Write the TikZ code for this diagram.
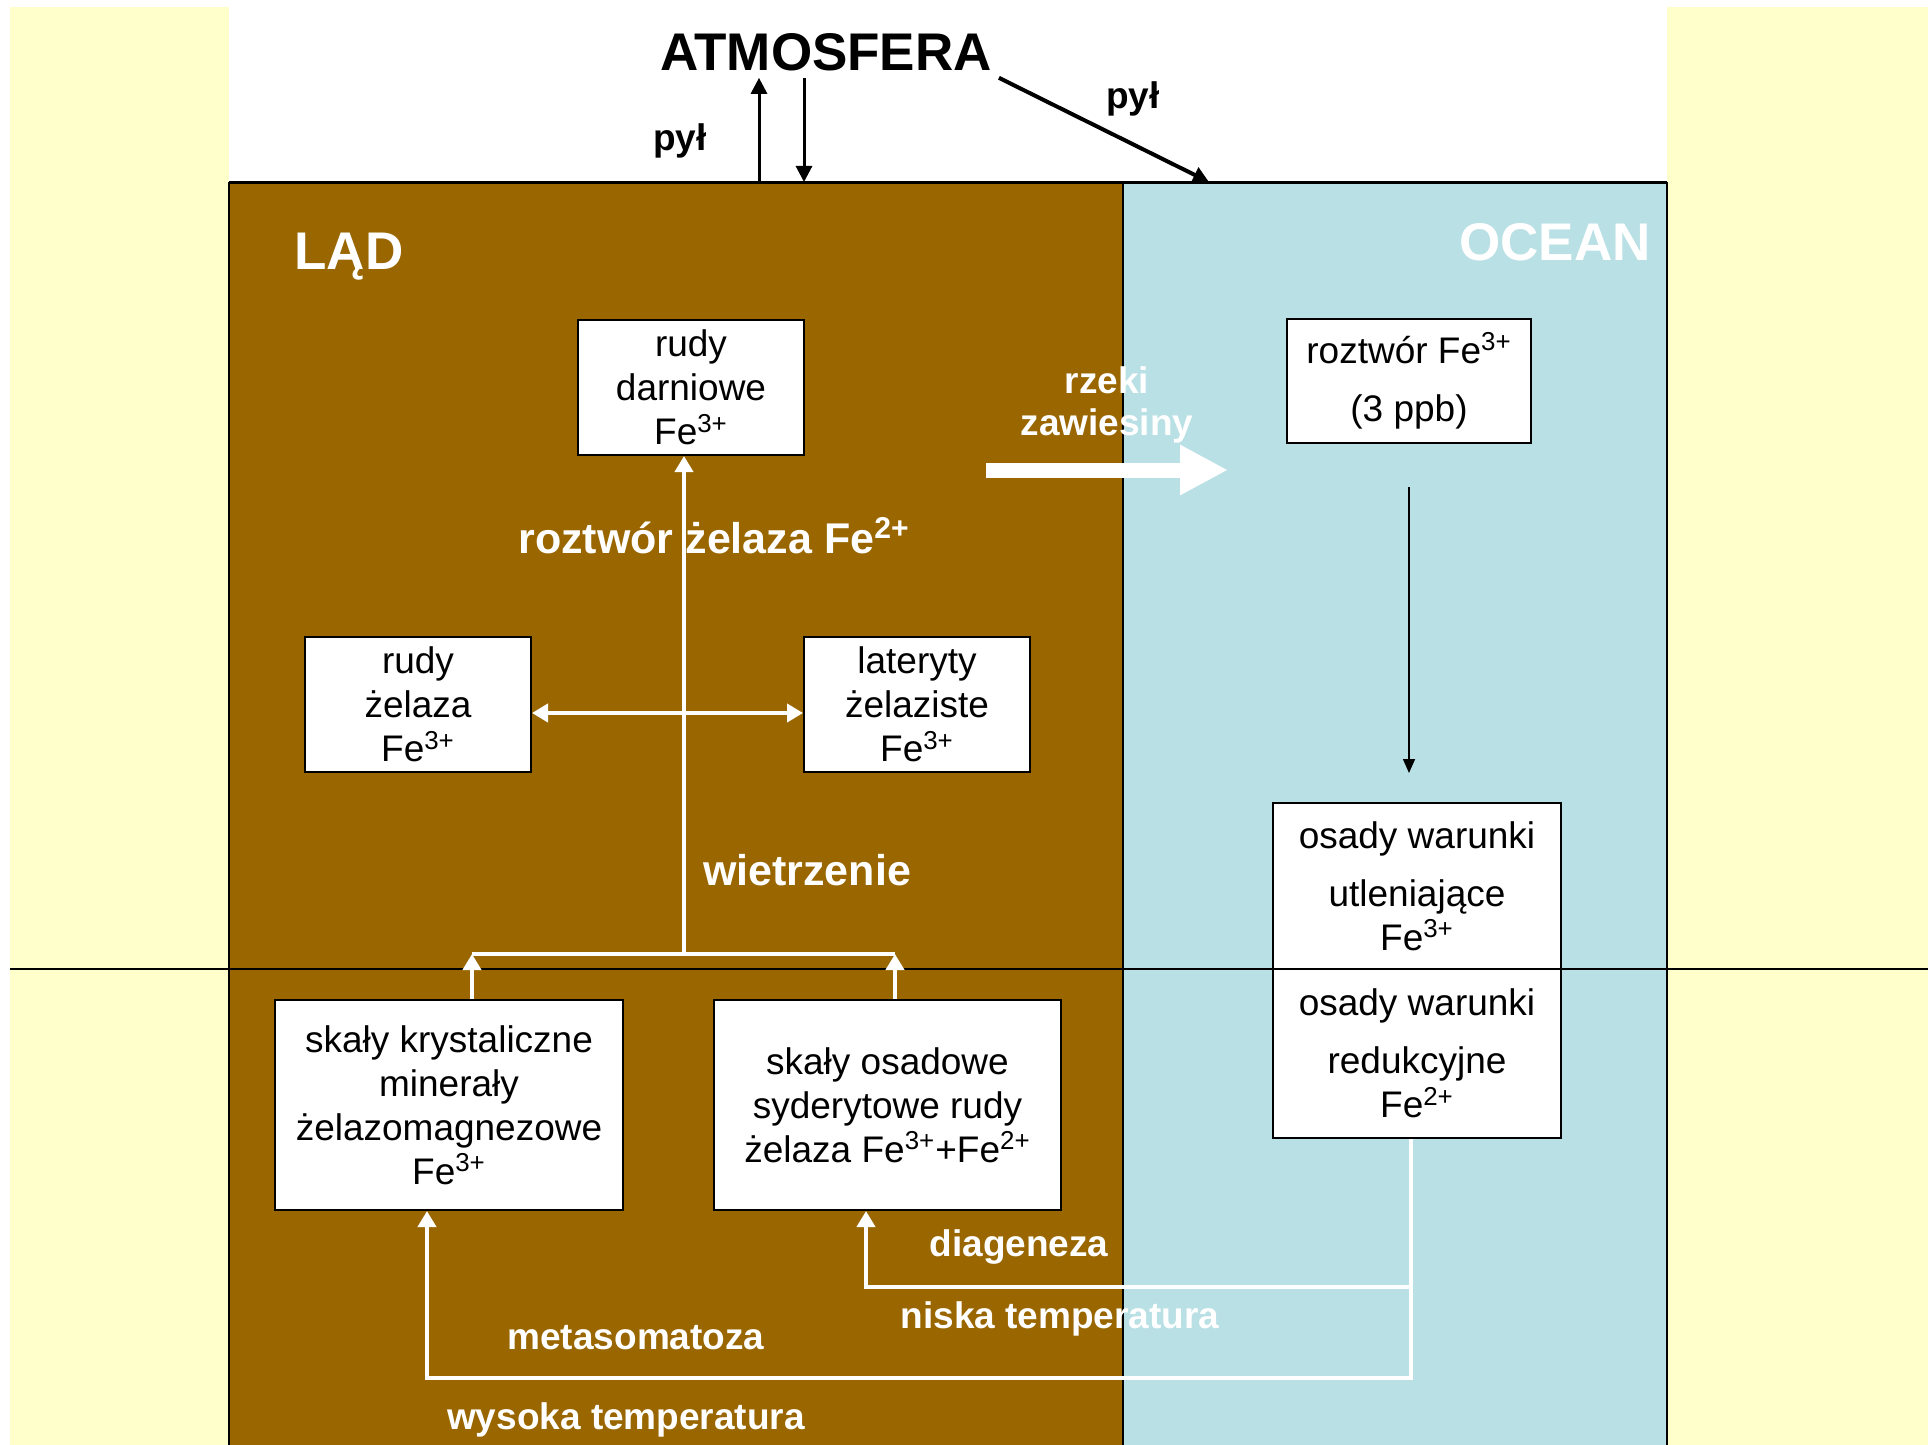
\documentclass[tikz,border=0pt]{standalone}
\usepackage{fontspec}
\setmainfont{Liberation Sans}
\usetikzlibrary{arrows.meta}
\definecolor{brazowy}{RGB}{153,102,0}
\definecolor{morski}{RGB}{185,224,228}
\definecolor{zolty}{RGB}{255,255,204}

\begin{document}
\begin{tikzpicture}[x=0.5pt, y=-0.5pt,
        box/.style = {draw, line width=1pt, fill=white, align=center, inner sep=0pt,
                      font=\fontsize{18.5}{22}\selectfont},
        lab/.style = {text=white, align=center, font=\fontsize{18.5}{21}\selectfont\bfseries},
        labbig/.style = {text=white, font=\fontsize{21.5}{25}\selectfont\bfseries},
        title/.style = {font=\fontsize{26.5}{30}\selectfont\bfseries},
        flowline/.style = {draw=white, line width=2pt},
        flow/.style = {flowline, -{Triangle[length=8pt,width=9pt]}},
        dust/.style = {line width=1.5pt, -{Triangle[length=8pt,width=8pt]}}]
    \useasboundingbox (0,0) rectangle (1928,1445);
    % tlo
    \fill[zolty] (10,7) rectangle (229,1445);
    \fill[zolty] (1667,7) rectangle (1928,1445);
    \fill[brazowy] (229,182) rectangle (1123,1445);
    \fill[morski] (1123,182) rectangle (1667,1445);
    \draw[line width=0.75pt] (229,1445) -- (229,182);
    \draw[line width=0.75pt] (1667,182) -- (1667,1445);
    \draw[line width=0.75pt] (1123,182) -- (1123,1445);
    \draw[line width=1.5pt] (229,182) -- (1667,182);
    \draw[line width=1pt] (10,969) -- (1928,969);

    \node[title] (atm) at (826,52) {ATMOSFERA};
    \node[title, text=white] (lad) at (349,257) {LĄD};
    \node[title, text=white] (ocean) at (1555,242) {OCEAN};

    \node[box, minimum width=113pt, minimum height=67.5pt] (darn) at (691,387.5) {rudy\\darniowe\\Fe\textsuperscript{3+}};
    \node[box, minimum width=113pt, minimum height=67.5pt] (zel) at (418,704.5) {rudy\\żelaza\\Fe\textsuperscript{3+}};
    \node[box, minimum width=113pt, minimum height=67.5pt] (lat) at (917,704.5) {lateryty\\żelaziste\\Fe\textsuperscript{3+}};
    \node[box, minimum width=122pt, minimum height=62pt] (rozt) at (1409,381) {roztwór Fe\textsuperscript{3+}\\[7pt](3 ppb)};
    \node[box, minimum width=144pt, minimum height=83pt] (utl) at (1417,886) {osady warunki\\[7pt]utleniające\\Fe\textsuperscript{3+}};
    \node[box, minimum width=144pt, minimum height=84.5pt] (red) at (1417,1053.5) {osady warunki\\[7pt]redukcyjne\\Fe\textsuperscript{2+}};
    \node[box, minimum width=174pt, minimum height=105pt] (kryst) at (449,1105) {skały krystaliczne\\minerały\\żelazomagnezowe\\Fe\textsuperscript{3+}};
    \node[box, minimum width=173.5pt, minimum height=105pt] (osad) at (887.5,1105) {skały osadowe\\syderytowe rudy\\żelaza Fe\textsuperscript{3+}+Fe\textsuperscript{2+}};

    % pyl
    \coordinate (pylG) at (759,182);
    \coordinate (pylD) at (804,182);
    \coordinate (pylO) at (1209,182);
    \draw[dust] (pylG) -- (pylG |- atm.south);
    \draw[dust] (pylD |- atm.south) -- (pylD);
    \draw[dust, line width=2pt] (atm.south east) -- (pylO);
    \node[font=\fontsize{18.5}{22}\selectfont\bfseries] (pyl1) at (680,141) {pył};
    \node[font=\fontsize{18.5}{22}\selectfont\bfseries] (pyl2) at (1133,99) {pył};

    % rzeki
    \coordinate (rz) at (986,470);
    \draw[white, line width=7.5pt, -{Triangle[length=24pt,width=23.5pt]}] (rz) -- ++(242,0);
    \node[lab] (rzeki) at (1107,405) {rzeki\\zawiesiny};

    % wietrzenie
    \coordinate (wiL) at (472,954);
    \coordinate (wiP) at (895,954);
    \coordinate (wiS) at (684,954);
    \draw[flow] (kryst.north -| wiL) -- (wiL);
    \draw[flow] (osad.north -| wiP) -- (wiP);
    \draw[flowline] (wiL) -- (wiP);
    \draw[flow] (wiS) -- (darn.south -| wiS);
    \draw[flow, {Triangle[length=8pt,width=9pt]}-{Triangle[length=8pt,width=9pt]}] ([yshift=-4.25pt]zel.east) -- ([yshift=-4.25pt]lat.west);
    \node[labbig] (rozzel) at (714,536) {roztwór żelaza Fe\textsuperscript{2+}};
    \node[labbig] (wietrz) at (807,870) {wietrzenie};

    % ocean
    \draw[line width=0.75pt, -{Triangle[length=7pt,width=6pt]}] ([yshift=-21.5pt]rozt.south) -- ++(0,286);

    % powrot
    \coordinate (odR) at ([xshift=-3pt]red.south);
    \coordinate (meta) at (427,1378);
    \coordinate (diag) at (866,1287);
    \draw[flow] (odR) |- (meta) -- (meta |- kryst.south);
    \draw[flow] (odR |- diag) -- (diag) -- (diag |- osad.south);
    \node[lab] (diagen) at (1019,1247) {diageneza};
    \node[lab] (niska) at (1060,1319) {niska temperatura};
    \node[lab] (metas) at (636,1338) {metasomatoza};
    \node[lab] (wysoka) at (626,1420) {wysoka temperatura};
\end{tikzpicture}
\end{document}
